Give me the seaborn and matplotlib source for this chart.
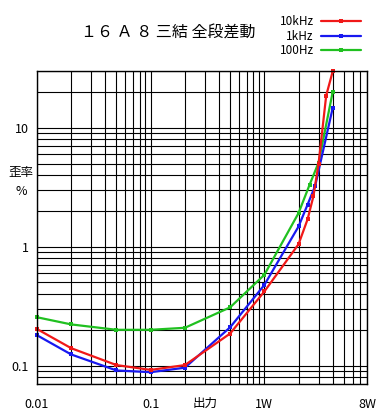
import numpy as np
import pandas as pd
import matplotlib
matplotlib.use('Agg')
import matplotlib.pyplot as plt
import seaborn as sns
from matplotlib.ticker import NullFormatter, FixedLocator, LogLocator

# distortion (%) vs output power (W)
w_10k = [0.01, 0.02, 0.05, 0.1, 0.2, 0.5, 1, 2, 2.4, 2.7, 3.0, 3.5, 4.0]
thd_10k = [0.203, 0.14, 0.101, 0.092, 0.101, 0.186, 0.42, 1.05, 1.7, 2.65, 5.0, 18.7, 30.0]

w_1k = [0.01, 0.02, 0.05, 0.1, 0.2, 0.5, 1, 2, 2.4, 2.8, 4.0]
thd_1k = [0.18, 0.124, 0.091, 0.088, 0.096, 0.21, 0.477, 1.48, 2.26, 3.25, 14.8]

w_100 = [0.01, 0.02, 0.05, 0.1, 0.2, 0.5, 1, 2, 2.5, 3.0, 4.0]
thd_100 = [0.255, 0.222, 0.2, 0.2, 0.208, 0.309, 0.58, 1.92, 3.32, 5.1, 20.2]

freqs = ['100Hz', '1kHz', '10kHz']
colors = {'10kHz': '#f01818', '1kHz': '#1818f0', '100Hz': '#20c020'}

x_ticks = [0.01, 0.1, 1, 8]
x_labels = ['0.01', '0.1', '1W', '8W']
y_ticks = [0.1, 1, 10]
y_labels = ['0.1', '1', '10']

df = pd.concat([
    pd.DataFrame({'W': w_100, 'thd': thd_100, 'freq': '100Hz'}),
    pd.DataFrame({'W': w_1k, 'thd': thd_1k, 'freq': '1kHz'}),
    pd.DataFrame({'W': w_10k, 'thd': thd_10k, 'freq': '10kHz'}),
], ignore_index=True)

sns.set_theme(style='white')
plt.rcParams['font.family'] = ['Noto Sans CJK JP', 'DejaVu Sans']

fig = plt.figure(figsize=(3.8, 4.2), dpi=100)
ax = fig.add_axes([0.0974, 0.0857, 0.8684, 0.745])

sns.lineplot(data=df, x='W', y='thd', hue='freq', hue_order=freqs, palette=colors,
             marker='s', markersize=3.5, markeredgewidth=0, linewidth=1.6,
             sort=False, estimator=None, legend=False, ax=ax)
for ln in ax.lines:
    ln.set_clip_on(False)

ax.set_xscale('log')
ax.set_yscale('log')
ax.set_xlim(0.01, 8)
ax.set_ylim(0.07, 30)

# full grid, major + minor, no tick marks
ax.xaxis.set_minor_locator(LogLocator(base=10, subs=np.arange(2, 10)))
ax.yaxis.set_minor_locator(LogLocator(base=10, subs=np.arange(2, 10)))
ax.xaxis.set_minor_formatter(NullFormatter())
ax.yaxis.set_minor_formatter(NullFormatter())
ax.xaxis.set_major_locator(FixedLocator(x_ticks))
ax.yaxis.set_major_locator(FixedLocator(y_ticks))
ax.set_xticklabels(x_labels)
ax.set_yticklabels(y_labels)
ax.grid(True, which='both', color='black', linewidth=0.8)
ax.set_axisbelow(True)
ax.tick_params(which='both', length=0, labelsize=9, colors='black')
ax.tick_params(axis='x', pad=10)
ax.tick_params(axis='y', pad=6)
for s in ax.spines.values():
    s.set_color('black')
    s.set_linewidth(1)

ax.set_xlabel('出力', fontsize=9, color='black', va='center')
ax.xaxis.set_label_coords(0.51, -0.062)
ax.set_ylabel('歪率\n%', fontsize=9, color='black', rotation=0, va='center',
              ha='center', linespacing=1.6)
ax.yaxis.set_label_coords(-0.048, 0.644)

fig.suptitle('１６ Ａ ８ 三結 全段差動', x=0.443, y=0.921, va='center',
             fontsize=11.5, color='black')

lines = ax.get_lines()
leg = ax.legend(handles=[lines[2], lines[1], lines[0]], labels=['10kHz', '1kHz', '100Hz'],
                loc='upper right', bbox_to_anchor=(0.95, 0.964), bbox_transform=fig.transFigure,
                frameon=False, markerfirst=False, fontsize=8.5, handlelength=3.4,
                handletextpad=0.6, labelspacing=0.13, borderpad=0, borderaxespad=0)
for t in leg.get_texts():
    t.set_color('black')

fig.savefig('out.png', dpi=100, facecolor='white')
